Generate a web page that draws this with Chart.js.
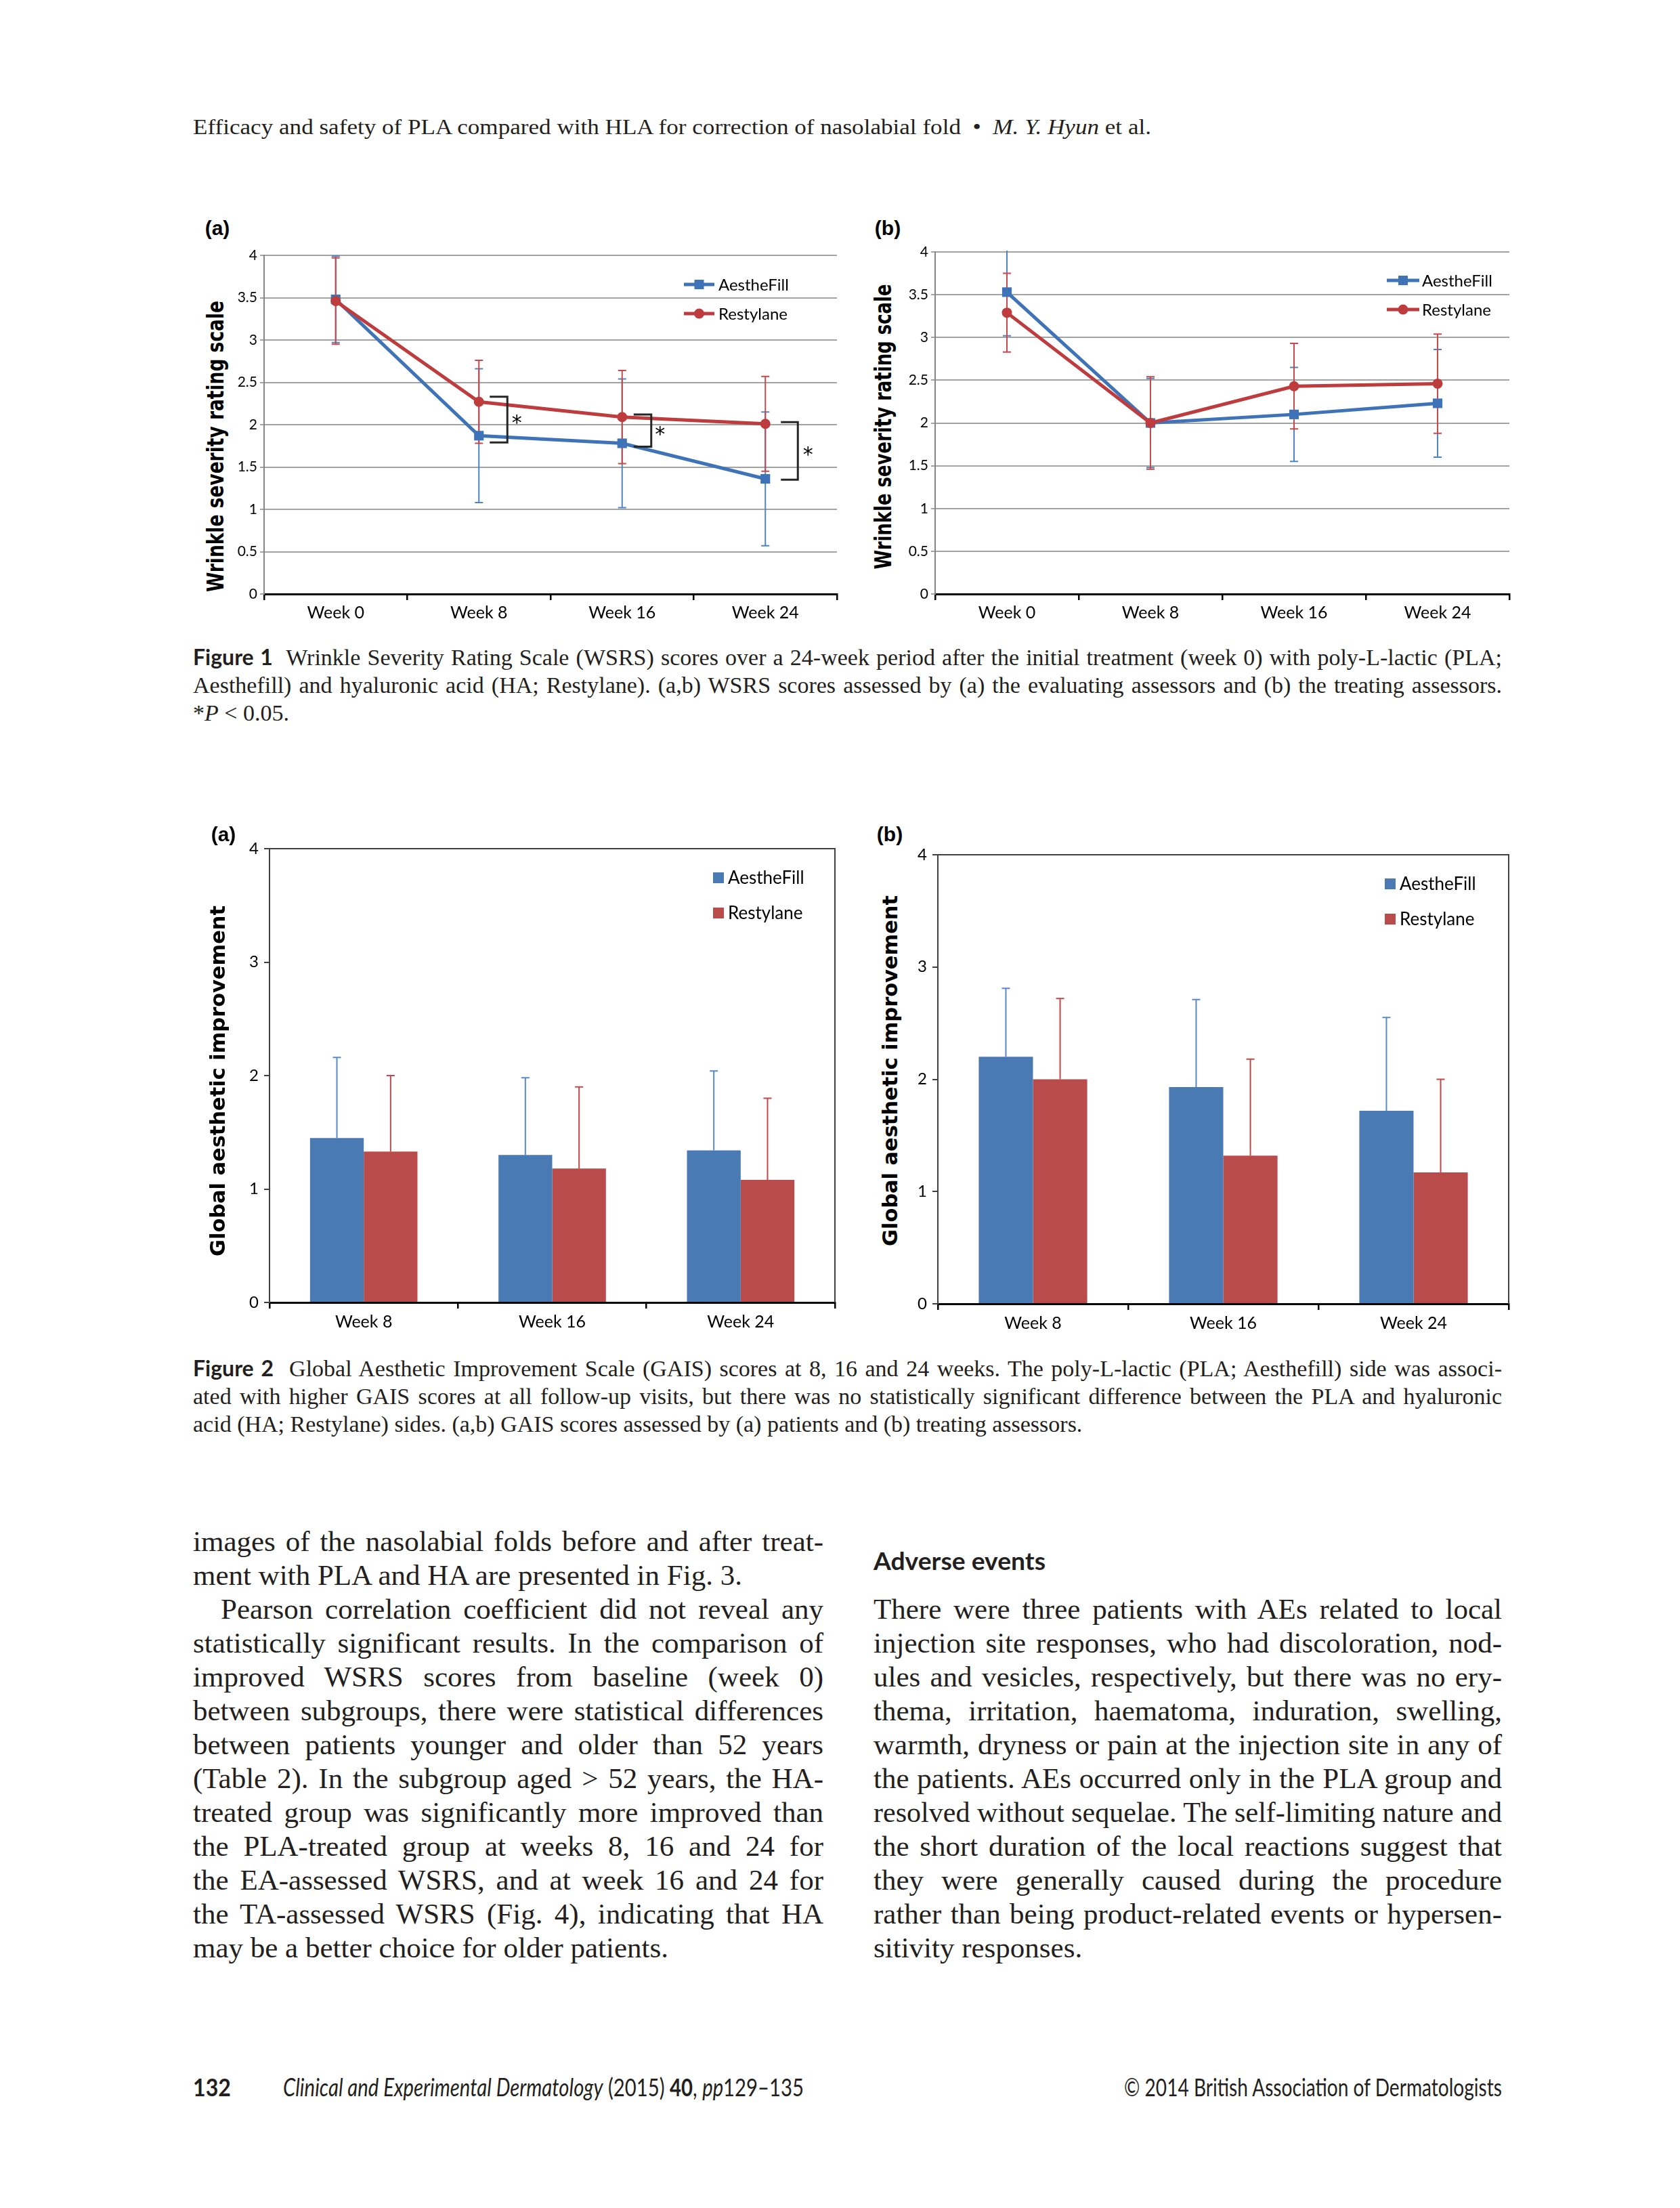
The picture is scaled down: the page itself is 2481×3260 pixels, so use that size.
<!DOCTYPE html>
<html>
<head>
<meta charset="utf-8">
<title>WSRS and GAIS scores</title>
<script src="https://cdn.jsdelivr.net/npm/chart.js@4.4.1/dist/chart.umd.min.js"></script>
<style>
html, body { margin: 0; padding: 0; background: #fff; }
body { width: 2481px; height: 3260px; position: relative; overflow: hidden; color: #231f20;
       font-family: 'Liberation Serif', 'DejaVu Serif', serif; }
.ln { position: absolute; white-space: nowrap; transform-origin: 0 50%; }
.hdr { font-size: 32px; }
.cap { font-size: 34px; }
.txt { font-size: 43px; }
.sf  { font-size: 36px; font-family: Lato, 'Open Sans', sans-serif; }
.cap b { font-family: Lato, 'Open Sans', sans-serif; font-size: 32px; }
.box { position: absolute; }
.rot { position: absolute; white-space: nowrap; color: #000; font-weight: bold;
       font-family: 'DejaVu Sans', sans-serif; }
.panel { position: absolute; font-family: 'Liberation Sans', Arial, sans-serif; font-weight: bold;
         font-size: 30px; color: #000; transform: translate(-50%, -50%); }
</style>
</head>
<body>

<div class="box" style="left:340px;top:350px"><canvas id="fig1a" width="906" height="580"></canvas></div>
<div class="box" style="left:1331px;top:345px"><canvas id="fig1b" width="908" height="585"></canvas></div>
<div class="box" style="left:348px;top:1225px"><canvas id="fig2a" width="895" height="745"></canvas></div>
<div class="box" style="left:1335px;top:1234px"><canvas id="fig2b" width="903" height="736"></canvas></div>

<script>
// ================================================================
// DATA
// ================================================================
const weeksLine   = ['Week 0', 'Week 8', 'Week 16', 'Week 24'];
const weeksBar    = ['Week 8', 'Week 16', 'Week 24'];
const seriesNames = ['AestheFill', 'Restylane'];

// Fig 1a – WSRS by evaluating assessors (mean / SD)
const wsrsEvalPla   = [3.48, 1.87, 1.78, 1.36];
const wsrsEvalPlaSd = [0.51, 0.79, 0.76, 0.79];
const wsrsEvalHa    = [3.46, 2.27, 2.09, 2.01];
const wsrsEvalHaSd  = [0.51, 0.49, 0.55, 0.56];
// *P < 0.05 brackets: week index, upper and lower end
const sigWeeks = [1, 2, 3];
const sigUpper = [2.33, 2.12, 2.03];
const sigLower = [1.79, 1.74, 1.35];

// Fig 1b – WSRS by treating assessors
const wsrsTreatPla   = [3.53, 2.00, 2.10, 2.23];
const wsrsTreatPlaSd = [0.51, 0.52, 0.55, 0.63];
const wsrsTreatHa    = [3.29, 2.00, 2.43, 2.46];
const wsrsTreatHaSd  = [0.46, 0.54, 0.50, 0.58];

// Fig 2a – GAIS by patients
const gaisPatPla   = [1.45, 1.30, 1.34];
const gaisPatPlaSd = [0.71, 0.68, 0.70];
const gaisPatHa    = [1.33, 1.18, 1.08];
const gaisPatHaSd  = [0.67, 0.72, 0.72];

// Fig 2b – GAIS by treating assessors
const gaisTreatPla   = [2.20, 1.93, 1.72];
const gaisTreatPlaSd = [0.61, 0.78, 0.83];
const gaisTreatHa    = [2.00, 1.32, 1.17];
const gaisTreatHaSd  = [0.72, 0.86, 0.83];

// ================================================================
// PAGE TEXT
// ================================================================
function addLine(html, x, cy, w, cls, o = {}) {
    const el = document.createElement('div');
    const lh = o.lh || 40, ind = o.indent || 0;
    el.className = 'ln ' + cls;
    el.innerHTML = '<span>' + html + '</span>';
    el.style.left = (x + ind) + 'px';
    el.style.top  = (cy - lh / 2 - (o.shift || 0)) + 'px';
    el.style.lineHeight = lh + 'px';
    document.body.appendChild(el);
    const tw  = w - ind;
    const nat = el.firstChild.getBoundingClientRect().width;
    if (o.justify && nat <= tw - 2) {
        el.style.whiteSpace = 'normal';
        el.style.width = tw + 'px';
        el.style.textAlign = 'justify';
        el.style.textAlignLast = 'justify';
    } else if (o.justify || o.fit || nat > tw) {
        el.style.transform = `scaleX(${tw / nat})`;
    }
}

function addRot(text, cx, cy, len, size) {
    const el = document.createElement('div');
    el.className = 'rot'; el.textContent = text;
    el.style.fontSize = size + 'px';
    el.style.left = cx + 'px'; el.style.top = cy + 'px';
    document.body.appendChild(el);
    const k = len / el.getBoundingClientRect().width;
    el.style.transform = `translate(-50%, -50%) rotate(-90deg) scaleX(${k})`;
}

function addPanel(text, cx, cy) {
    const el = document.createElement('div');
    el.className = 'panel'; el.textContent = text;
    el.style.left = cx + 'px'; el.style.top = cy + 'px';
    document.body.appendChild(el);
}

addLine('Efficacy and safety of PLA compared with HLA for correction of nasolabial fold &nbsp;&bull;&nbsp; <i>M. Y. Hyun</i> et al.',
        285, 187, 1415, 'hdr', { fit: true });

const cap1 = [
    '<b>Figure 1</b>&nbsp; Wrinkle Severity Rating Scale (WSRS) scores over a 24-week period after the initial treatment (week 0) with poly-L-lactic (PLA;',
    'Aesthefill) and hyaluronic acid (HA; Restylane). (a,b) WSRS scores assessed by (a) the evaluating assessors and (b) the treating assessors.',
    '*<i>P</i> &lt; 0.05.'
];
cap1.forEach((t, i) => addLine(t, 285, 973 + 41.5 * i, 1933, 'cap', { lh: 42, justify: i < 2, shift: 3 }));

const cap2 = [
    '<b>Figure 2</b>&nbsp; Global Aesthetic Improvement Scale (GAIS) scores at 8, 16 and 24 weeks. The poly-L-lactic (PLA; Aesthefill) side was associ-',
    'ated with higher GAIS scores at all follow-up visits, but there was no statistically significant difference between the PLA and hyaluronic',
    'acid (HA; Restylane) sides. (a,b) GAIS scores assessed by (a) patients and (b) treating assessors.'
];
cap2.forEach((t, i) => addLine(t, 285, 2023 + 41.5 * i, 1933, 'cap', { lh: 42, justify: i < 2, shift: 3 }));

const leftCol = [
    'images of the nasolabial folds before and after treat-',
    'ment with PLA and HA are presented in Fig. 3.',
    'Pearson correlation coefficient did not reveal any',
    'statistically significant results. In the comparison of',
    'improved WSRS scores from baseline (week 0)',
    'between subgroups, there were statistical differences',
    'between patients younger and older than 52 years',
    '(Table 2). In the subgroup aged &gt; 52 years, the HA-',
    'treated group was significantly more improved than',
    'the PLA-treated group at weeks 8, 16 and 24 for',
    'the EA-assessed WSRS, and at week 16 and 24 for',
    'the TA-assessed WSRS (Fig. 4), indicating that HA',
    'may be a better choice for older patients.'
];
leftCol.forEach((t, i) => addLine(t, 285, 2281 + 50 * i, 931, 'txt',
    { lh: 50, justify: i !== 1 && i !== 12, indent: i === 2 ? 41 : 0, shift: 5 }));

addLine('<b>Adverse events</b>', 1290, 2306, 254, 'sf', { lh: 50, fit: true, shift: 2 });

const rightCol = [
    'There were three patients with AEs related to local',
    'injection site responses, who had discoloration, nod-',
    'ules and vesicles, respectively, but there was no ery-',
    'thema, irritation, haematoma, induration, swelling,',
    'warmth, dryness or pain at the injection site in any of',
    'the patients. AEs occurred only in the PLA group and',
    'resolved without sequelae. The self-limiting nature and',
    'the short duration of the local reactions suggest that',
    'they were generally caused during the procedure',
    'rather than being product-related events or hypersen-',
    'sitivity responses.'
];
rightCol.forEach((t, i) => addLine(t, 1290, 2381 + 50 * i, 928, 'txt',
    { lh: 50, justify: i < 10, shift: 5 }));

addLine('<b>132</b>', 285, 3083, 56, 'sf', { lh: 40, fit: true, shift: 2 });
addLine('<i>Clinical and Experimental Dermatology</i> (2015) <b>40</b>, <i>pp</i>129&ndash;135', 418, 3083, 769, 'sf', { lh: 40, fit: true, shift: 2 });
addLine('&copy; 2014 British Association of Dermatologists', 1660, 3083, 558, 'sf', { lh: 40, fit: true, shift: 2 });

addPanel('(a)', 321, 337);
addPanel('(b)', 1311, 337);
addPanel('(a)', 330, 1232);
addPanel('(b)', 1314, 1232);

addRot('Wrinkle severity rating scale', 318, 659, 430, 33);
addRot('Wrinkle severity rating scale', 1304, 630, 421, 33);
addRot('Global  aesthetic improvement', 321, 1596, 518, 31);
addRot('Global  aesthetic improvement', 1314, 1581, 518, 31);

// ================================================================
// CHART PLUGINS
// ================================================================
const BLUE_LINE = '#3f73b8', RED_LINE = '#be3c3e';
const BLUE_BAR  = '#4a7ab3', RED_BAR  = '#b94c4a';
Chart.defaults.font.family = "Lato, 'Open Sans', sans-serif";
Chart.defaults.color = '#000';

function drawErrors(chart, o) {
    const { ctx, chartArea: ca, scales: { y } } = chart;
    ctx.save();
    ctx.beginPath(); ctx.rect(ca.left, ca.top - 2, ca.width, ca.height + 2); ctx.clip();
    ctx.lineWidth = o.width;
    chart.data.datasets.forEach((ds, i) => {
        ctx.strokeStyle = o.colors[i];
        chart.getDatasetMeta(i).data.forEach((pt, j) => {
            const v = ds.data[j], e = ds.sd[j];
            const top = y.getPixelForValue(v + e);
            const bot = y.getPixelForValue(o.upOnly ? v : v - e);
            ctx.beginPath();
            ctx.moveTo(pt.x, top); ctx.lineTo(pt.x, bot);
            ctx.moveTo(pt.x - o.cap, top); ctx.lineTo(pt.x + o.cap, top);
            if (!o.upOnly) { ctx.moveTo(pt.x - o.cap, bot); ctx.lineTo(pt.x + o.cap, bot); }
            ctx.stroke();
        });
    });
    ctx.restore();
}

const errorBars = {
    id: 'errorBars',
    beforeDatasetsDraw(chart, args, o) { if (!o.upOnly) drawErrors(chart, o); },
    afterDatasetsDraw(chart, args, o)  { if (o.upOnly)  drawErrors(chart, o); }
};

const innerLegend = {
    id: 'innerLegend',
    afterDraw(chart, args, o) {
        const { ctx, chartArea: ca } = chart;
        ctx.save();
        ctx.font = o.font; ctx.textBaseline = 'middle'; ctx.textAlign = 'left';
        chart.data.datasets.forEach((ds, i) => {
            const yy = ca.top + o.top + i * o.gap;
            const xx = ca.right - o.right;
            ctx.fillStyle = ds.backgroundColor; ctx.strokeStyle = ds.borderColor;
            if (o.line) {
                ctx.lineWidth = 5;
                ctx.beginPath(); ctx.moveTo(xx, yy); ctx.lineTo(xx + o.len, yy); ctx.stroke();
                const mx = xx + o.len / 2;
                ctx.beginPath();
                if (ds.pointStyle === 'rect') ctx.rect(mx - 7, yy - 7, 14, 14);
                else ctx.arc(mx, yy, 7.5, 0, Math.PI * 2);
                ctx.fill();
            } else {
                ctx.fillRect(xx, yy - o.box / 2, o.box, o.box);
            }
            ctx.fillStyle = '#000';
            ctx.fillText(ds.label, xx + o.textX, yy + 1);
        });
        ctx.restore();
    }
};

const sigBrackets = {
    id: 'sigBrackets',
    afterDatasetsDraw(chart, args, o) {
        const { ctx, scales: { x, y } } = chart;
        ctx.save();
        ctx.strokeStyle = '#262626'; ctx.lineWidth = 3; ctx.fillStyle = '#000';
        ctx.font = "30px 'DejaVu Sans', sans-serif"; ctx.textAlign = 'center'; ctx.textBaseline = 'middle';
        sigWeeks.forEach((c, i) => {
            const cx = x.getPixelForValue(c);
            const yt = y.getPixelForValue(sigUpper[i]), yb = y.getPixelForValue(sigLower[i]);
            const x0 = cx + o.inner[i], x1 = cx + o.outer[i];
            ctx.beginPath();
            ctx.moveTo(x0, yt); ctx.lineTo(x1, yt); ctx.lineTo(x1, yb); ctx.lineTo(x0, yb);
            ctx.stroke();
            ctx.fillText('*', cx + o.star[i], (yt + yb) / 2 + 7);
        });
        ctx.restore();
    }
};

const plotBox = {
    id: 'plotBox',
    afterDraw(chart) {
        const { ctx, chartArea: ca } = chart;
        ctx.save();
        ctx.strokeStyle = '#404040'; ctx.lineWidth = 2;
        ctx.beginPath();
        ctx.moveTo(ca.left, ca.top); ctx.lineTo(ca.right, ca.top); ctx.lineTo(ca.right, ca.bottom);
        ctx.stroke();
        ctx.restore();
    }
};

// ================================================================
// CHARTS
// ================================================================
function lineChart(id, pla, plaSd, ha, haSd, legend, extra) {
    const plugins = [errorBars, innerLegend].concat(extra ? [sigBrackets] : []);
    return new Chart(document.getElementById(id), {
        type: 'line',
        data: {
            labels: weeksLine,
            datasets: [
                { label: seriesNames[0], data: pla, sd: plaSd, order: 2, borderColor: BLUE_LINE, backgroundColor: BLUE_LINE,
                  borderWidth: 5, pointStyle: 'rect', pointRadius: 10, pointBorderWidth: 0 },
                { label: seriesNames[1], data: ha, sd: haSd, order: 1, borderColor: RED_LINE, backgroundColor: RED_LINE,
                  borderWidth: 5, pointStyle: 'circle', pointRadius: 7.5, pointBorderWidth: 0 }
            ]
        },
        options: {
            responsive: false, animation: false, devicePixelRatio: 1,
            layout: { padding: { top: 27, right: 10, left: 0, bottom: 0 }, autoPadding: false },
            plugins: {
                legend: { display: false }, tooltip: { enabled: false },
                errorBars: { width: 2, cap: 6, colors: ['#4f84c4', '#c8494b'] },
                innerLegend: Object.assign({ line: true, font: "24px Lato, sans-serif" }, legend),
                sigBrackets: extra || {}
            },
            scales: {
                x: {
                    offset: true,
                    grid: { offset: true, drawOnChartArea: false, color: '#000', lineWidth: 2.5, tickLength: 9 },
                    border: { color: '#000', width: 3 },
                    ticks: { font: { size: 25 }, padding: 4, maxRotation: 0 },
                    afterFit: s => { s.height = 53; }
                },
                y: {
                    min: 0, max: 4,
                    ticks: { stepSize: 0.5, font: { size: 21 }, padding: 4, callback: v => String(v) },
                    grid: { color: c => c.tick && c.tick.value === 0 ? 'rgba(0,0,0,0)' : '#a3a3a3',
                            tickColor: '#a3a3a3', lineWidth: 2, tickLength: 6 },
                    border: { color: '#868686', width: 2 },
                    afterFit: s => { s.width = 50; }
                }
            }
        },
        plugins
    });
}

function barChart(id, pla, plaSd, ha, haSd, legend, xH) {
    return new Chart(document.getElementById(id), {
        type: 'bar',
        data: {
            labels: weeksBar,
            datasets: [
                { label: seriesNames[0], data: pla, sd: plaSd, backgroundColor: BLUE_BAR, borderWidth: 0 },
                { label: seriesNames[1], data: ha, sd: haSd, backgroundColor: RED_BAR, borderWidth: 0 }
            ]
        },
        options: {
            responsive: false, animation: false, devicePixelRatio: 1,
            layout: { padding: { top: 28, right: 10, left: 0, bottom: 0 }, autoPadding: false },
            datasets: { bar: { categoryPercentage: 0.57, barPercentage: 1 } },
            plugins: {
                legend: { display: false }, tooltip: { enabled: false },
                errorBars: { upOnly: true, width: 2, cap: 6, colors: ['#5a8ac6', '#c0494a'] },
                innerLegend: Object.assign({ line: false, box: 16, font: "26px Lato, sans-serif" }, legend)
            },
            scales: {
                x: {
                    grid: { offset: true, drawOnChartArea: false, color: '#000', lineWidth: 2.5, tickLength: 9 },
                    border: { color: '#000', width: 3 },
                    ticks: { font: { size: 25 }, padding: 5, maxRotation: 0 },
                    afterFit: s => { s.height = xH; }
                },
                y: {
                    min: 0, max: 4,
                    ticks: { stepSize: 1, font: { size: 24 }, padding: 8 },
                    grid: { drawOnChartArea: false, color: '#404040', lineWidth: 2, tickLength: 8 },
                    border: { color: '#404040', width: 2 },
                    afterFit: s => { s.width = 50; }
                }
            }
        },
        plugins: [errorBars, innerLegend, plotBox]
    });
}

lineChart('fig1a', wsrsEvalPla, wsrsEvalPlaSd, wsrsEvalHa, wsrsEvalHaSd,
          { top: 43, gap: 43, right: 226, len: 45, textX: 51 },
          { inner: [16, 17, 23], outer: [42, 43, 48], star: [56, 56, 63] });
lineChart('fig1b', wsrsTreatPla, wsrsTreatPlaSd, wsrsTreatHa, wsrsTreatHaSd,
          { top: 42, gap: 43, right: 181, len: 48, textX: 52 });
barChart('fig2a', gaisPatPla, gaisPatPlaSd, gaisPatHa, gaisPatHaSd,
         { top: 43, gap: 52, right: 180, textX: 22 }, 47);
barChart('fig2b', gaisTreatPla, gaisTreatPlaSd, gaisTreatHa, gaisTreatHaSd,
         { top: 43, gap: 52, right: 183, textX: 22 }, 45);
</script>
</body>
</html>
